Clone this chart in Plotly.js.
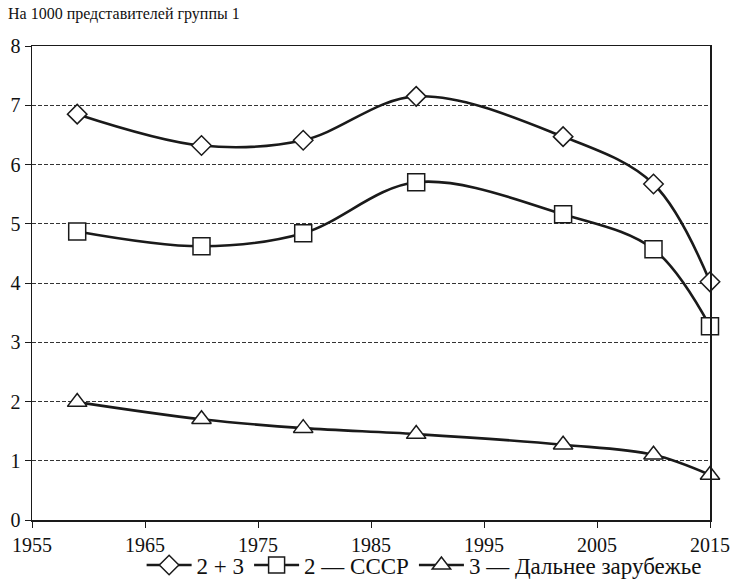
<!DOCTYPE html>
<html>
<head>
<meta charset="utf-8">
<script src="https://cdn.plot.ly/plotly-3.0.1.min.js"></script>
<style>html,body{margin:0;padding:0;background:#fff;}</style>
</head>
<body>
<div id="chart" style="width:732px;height:580px;"></div>
<script>
const years = [1959, 1970, 1979, 1989, 2002, 2010, 2015];
const seriesNames = ["2 + 3", "2 — СССР", "3 — Дальнее зарубежье"];
const s23 = [6.85, 6.32, 6.41, 7.15, 6.47, 5.67, 4.02];
const s2 = [4.87, 4.62, 4.84, 5.70, 5.16, 4.57, 3.27];
const s3 = [1.99, 1.70, 1.55, 1.45, 1.27, 1.10, 0.76];
const xTicks = [1955, 1965, 1975, 1985, 1995, 2005, 2015];
const yTicks = [0, 1, 2, 3, 4, 5, 6, 7, 8];
const titleText = "На 1000 представителей группы 1";

const FAM = "Liberation Serif";
const tickFont = {family: FAM, size: 20, color: "#111"};
const legFont = {family: FAM, size: 23, color: "#111"};
function tr(name, y, sym, size) {
  return {
    x: years, y: y, name: name, type: "scatter", mode: "lines+markers",
    line: {color: "#1a1a1a", width: 2.6, shape: "spline", smoothing: 1},
    marker: {symbol: sym, size: size, color: "#fff", line: {color: "#1a1a1a", width: 1.5}},
    cliponaxis: false
  };
}
const data = [
  tr(seriesNames[0], s23, "diamond", 15),
  tr(seriesNames[1], s2, "square", 17),
  tr(seriesNames[2], s3, "triangle-up", 17)
];
const layout = {
  width: 732, height: 580,
  margin: {l: 32, r: 22, t: 46, b: 60, autoexpand: false},
  paper_bgcolor: "#fff", plot_bgcolor: "#fff",
  font: {family: FAM, size: 18, color: "#111"},
  showlegend: true,
  legend: {orientation: "h", x: 0.995, xanchor: "right", y: -0.095, yanchor: "middle",
           font: legFont, itemwidth: 45, tracegroupgap: 0, bgcolor: "rgba(0,0,0,0)"},
  xaxis: {
    range: [1955, 2015], tickvals: xTicks, ticktext: xTicks.map(String),
    showgrid: false, zeroline: false, showline: true, mirror: true,
    linecolor: "#1a1a1a", linewidth: 1.5, ticks: "outside", ticklen: 6,
    tickcolor: "#1a1a1a", tickwidth: 1, tickfont: tickFont
  },
  yaxis: {
    range: [0, 8], tickvals: yTicks, ticktext: yTicks.map(String),
    showgrid: true, gridcolor: "#333", gridwidth: 1, griddash: "4px,2px",
    zeroline: false, showline: true, mirror: true,
    linecolor: "#1a1a1a", linewidth: 1.5, ticks: "outside", ticklen: 6,
    tickcolor: "#1a1a1a", tickwidth: 1, tickfont: tickFont
  },
  annotations: [{
    text: titleText, xref: "paper", yref: "paper", x: -0.038, y: 1.0,
    xanchor: "left", yanchor: "bottom", yshift: 21, showarrow: false,
    font: {family: FAM, size: 16, color: "#111"}
  }]
};
Plotly.newPlot("chart", data, layout, {displayModeBar: false, staticPlot: true});
</script>
</body>
</html>
